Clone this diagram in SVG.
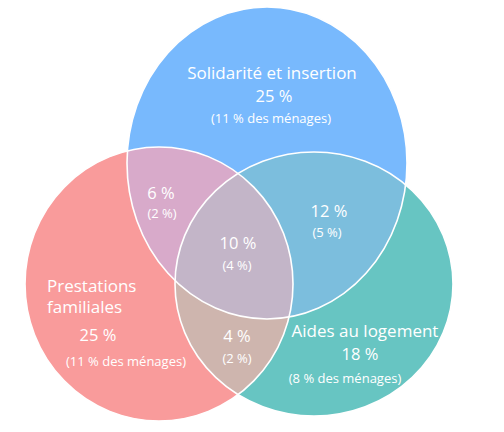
<svg xmlns="http://www.w3.org/2000/svg" width="504" height="432" viewBox="0 0 504 432">
  <style>
    text { font-family: "Open Sans", "Liberation Sans", sans-serif; fill: #ffffff; text-anchor: middle; }
    .big { font-size: 17px; }
    .pct { font-size: 16.5px; }
    .sm { font-size: 13px; }
    .outline { fill: none; stroke: #ffffff; stroke-width: 1.6; }
  </style>
  <defs>
    <clipPath id="clipBlue"><ellipse cx="267" cy="163" rx="140" ry="156"/></clipPath>
    <clipPath id="clipPink"><ellipse cx="159" cy="284" rx="134" ry="137"/></clipPath>
  </defs>
  <rect width="504" height="432" fill="#ffffff"/>

  <g id="set-solidarite">
    <ellipse cx="267" cy="163" rx="140" ry="156" fill="#78B9FD"/>
  </g>
  <g id="set-prestations">
    <ellipse cx="159" cy="284" rx="134" ry="137" fill="#F99B9B"/>
  </g>
  <g id="set-logement">
    <ellipse cx="314" cy="284" rx="139" ry="132" fill="#67C5C2"/>
  </g>

  <g id="overlap-solidarite-prestations">
    <ellipse cx="159" cy="284" rx="134" ry="137" fill="#D8AACA" clip-path="url(#clipBlue)"/>
  </g>
  <g id="overlap-solidarite-logement">
    <ellipse cx="314" cy="284" rx="139" ry="132" fill="#7CBEDD" clip-path="url(#clipBlue)"/>
  </g>
  <g id="overlap-prestations-logement">
    <ellipse cx="314" cy="284" rx="139" ry="132" fill="#CEB5AE" clip-path="url(#clipPink)"/>
  </g>
  <g id="overlap-all">
    <g clip-path="url(#clipPink)">
      <ellipse cx="314" cy="284" rx="139" ry="132" fill="#C3B5C8" clip-path="url(#clipBlue)"/>
    </g>
  </g>

  <g id="outlines">
    <ellipse class="outline" cx="267" cy="163" rx="140" ry="156"/>
    <ellipse class="outline" cx="159" cy="284" rx="134" ry="137"/>
    <ellipse class="outline" cx="314" cy="284" rx="139" ry="132"/>
  </g>

  <g id="labels">
    <text class="big" x="272" y="79">Solidarité et insertion</text>
    <text class="pct" x="274" y="102">25 %</text>
    <text class="sm" x="271" y="123">(11 % des ménages)</text>

    <text class="big" x="47" y="292" style="text-anchor:start">Prestations</text>
    <text class="big" x="47" y="313" style="text-anchor:start">familiales</text>
    <text class="pct" x="98" y="341">25 %</text>
    <text class="sm" x="126" y="366">(11 % des ménages)</text>

    <text class="big" x="365" y="337">Aides au logement</text>
    <text class="pct" x="360" y="360">18 %</text>
    <text class="sm" x="345" y="383">(8 % des ménages)</text>

    <text class="pct" x="161" y="199">6 %</text>
    <text class="sm" x="162" y="218">(2 %)</text>

    <text class="pct" x="329" y="217">12 %</text>
    <text class="sm" x="327" y="237">(5 %)</text>

    <text class="pct" x="238" y="249">10 %</text>
    <text class="sm" x="237" y="270">(4 %)</text>

    <text class="pct" x="237" y="342">4 %</text>
    <text class="sm" x="237" y="363">(2 %)</text>
  </g>
</svg>
